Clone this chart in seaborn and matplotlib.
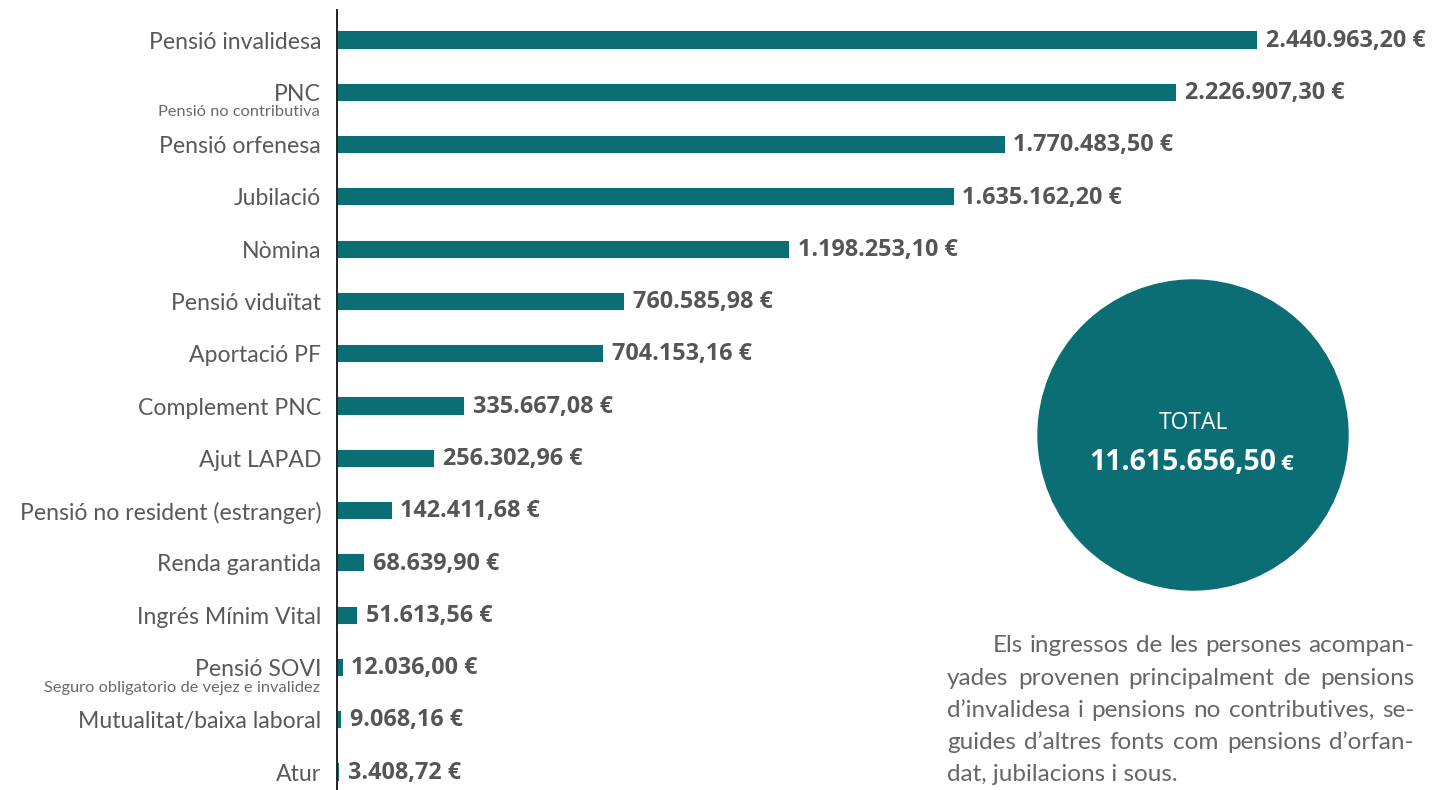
import matplotlib
matplotlib.use("Agg")
import matplotlib.pyplot as plt
from matplotlib.patches import Ellipse
import pandas as pd
import seaborn as sns

# data
categories = ["Pensió invalidesa", "PNC", "Pensió orfenesa", "Jubilació", "Nòmina",
              "Pensió viduïtat", "Aportació PF", "Complement PNC", "Ajut LAPAD",
              "Pensió no resident (estranger)", "Renda garantida", "Ingrés Mínim Vital",
              "Pensió SOVI", "Mutualitat/baixa laboral", "Atur"]
values = [2440963.20, 2226907.30, 1770483.50, 1635162.20, 1198253.10,
          760585.98, 704153.16, 335667.08, 256302.96,
          142411.68, 68639.90, 51613.56,
          12036.00, 9068.16, 3408.72]
sublabels = {"PNC": "Pensió no contributiva",
             "Pensió SOVI": "Seguro obligatorio de vejez e invalidez"}
total_label = "TOTAL"
total_value = "11.615.656,50"
note_lines = ["Els ingressos de les persones acompan-",
              "yades provenen principalment de pensions",
              "d\u2019invalidesa i pensions no contributives, se-",
              "guides d\u2019altres fonts com pensions d\u2019orfan-",
              "dat, jubilacions i sous."]

teal = "#0b6e74"
grey = "#555555"
W, H = 1436, 790

def euro(v):
    s = f"{v:,.2f}".replace(",", "X").replace(".", ",").replace("X", ".")
    return s + " €"

df = pd.DataFrame({"cat": categories, "val": values})

sns.set_theme(style="white")
plt.rcParams["font.family"] = ["Lato", "DejaVu Sans"]

fig = plt.figure(figsize=(W / 100, H / 100), dpi=100)
ax = fig.add_axes([337 / W, 0.0, 1 - 337 / W, 1 - 10 / H])

sns.barplot(data=df, y="cat", x="val", orient="h", color=teal, width=0.29,
            saturation=1, edgecolor=teal, linewidth=1.5, ax=ax)

ax.set_xlim(0, 2440963.20 * 1099 / 919)
ax.set_ylim(14.344, -0.574)
ax.set_xlabel("")
ax.set_ylabel("")
ax.set_xticks([])
sns.despine(ax=ax, left=False, bottom=True)
ax.spines["left"].set_color("#222222")
ax.spines["left"].set_linewidth(1.4)
ax.spines["left"].set_zorder(5)
ax.tick_params(axis="y", length=0, pad=11.5, labelsize=16.6, labelcolor="#595959")

for i, v in enumerate(values):
    ax.annotate(euro(v), xy=(v, i), xytext=(7, -0.5), textcoords="offset points",
                va="center", ha="left", fontsize=16.8, fontweight="bold",
                color=grey, family=["Open Sans", "DejaVu Sans"])

for name, sub in sublabels.items():
    i = categories.index(name)
    ax.annotate(sub, xy=(0, i), xycoords=("axes fraction", "data"),
                xytext=(-12, -14.5), textcoords="offset points",
                ha="right", va="center", fontsize=11.8, color="#6a6a6a")

# total bubble
cx, cy, r = 1193, 435, 155
fig.patches.append(Ellipse((cx / W, 1 - cy / H), 2 * r / W, 2 * r / H,
                           transform=fig.transFigure, color=teal, zorder=0))
fig.text(cx / W, 1 - 423 / H, total_label, ha="center", va="center",
         fontsize=16.5, color="white", family=["Open Sans", "DejaVu Sans"])
fig.text(1276 / W, 1 - 462 / H, total_value, ha="right", va="center",
         fontsize=20.5, fontweight="bold", color="white",
         family=["Open Sans", "DejaVu Sans"])
fig.text(1280 / W, 1 - 465 / H, "€", ha="left", va="center",
         fontsize=16, fontweight="bold", color="white",
         family=["Open Sans", "DejaVu Sans"])

# note paragraph, justified between x=947 and x=1414
renderer = fig.canvas.get_renderer()
right = 1414
for k, line in enumerate(note_lines):
    x0 = 993 if k == 0 else 947
    y = 1 - (646 + k * 32.2) / H
    if k == len(note_lines) - 1:
        fig.text(x0 / W, y, line, ha="left", va="center", fontsize=17.5,
                 color="#666666")
        continue
    words = line.split()
    objs = [fig.text(0, y, w, ha="left", va="center", fontsize=17.5,
                     color="#666666") for w in words]
    widths = [o.get_window_extent(renderer).width for o in objs]
    gap = (right - x0 - sum(widths)) / (len(words) - 1)
    x = x0
    for o, w in zip(objs, widths):
        o.set_x(x / W)
        x += w + gap

fig.savefig("out.png", dpi=100)
